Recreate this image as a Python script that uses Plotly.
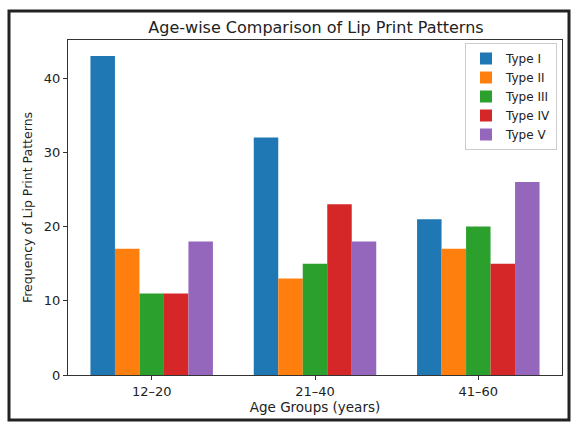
import plotly.graph_objects as go

age_groups = ["12–20", "21–40", "41–60"]
series_names = ["Type I", "Type II", "Type III", "Type IV", "Type V"]
type_i = [43, 32, 21]
type_ii = [17, 13, 17]
type_iii = [11, 15, 20]
type_iv = [11, 23, 15]
type_v = [18, 18, 26]
colors = ["#1f77b4", "#ff7f0e", "#2ca02c", "#d62728", "#9467bd"]

values = [type_i, type_ii, type_iii, type_iv, type_v]

fig = go.Figure()
for name, vals, c in zip(series_names, values, colors):
    fig.add_trace(go.Bar(x=age_groups, y=vals, name=name, marker=dict(color=c, line=dict(width=0))))

W, H = 573, 424
L, T, R, B = 68, 40, 11, 49

font_family = "DejaVu Sans, Arial, sans-serif"
fig.update_layout(
    width=W, height=H,
    margin=dict(l=L, r=R, t=T, b=B, autoexpand=False),
    paper_bgcolor="white", plot_bgcolor="white",
    barmode="group", bargap=0.25, bargroupgap=0,
    font=dict(family=font_family, size=13, color="#222"),
    title=dict(text="Age-wise Comparison of Lip Print Patterns", x=316 / W, xanchor="center",
               y=1 - 27 / H, yanchor="middle", font=dict(size=16, color="#222")),
    xaxis=dict(type="category", range=[-0.5125, 2.5125], showline=True, linecolor="#333", linewidth=1,
               mirror=True, ticks="outside", ticklen=4, tickcolor="#333", showgrid=False,
               title=dict(text="Age Groups (years)", font=dict(size=13.5), standoff=4),
               tickfont=dict(size=13)),
    yaxis=dict(range=[0, 45.15], tickvals=[0, 10, 20, 30, 40], showline=True, linecolor="#333",
               linewidth=1, mirror=True, ticks="outside", ticklen=4, tickcolor="#333", showgrid=False,
               zeroline=False,
               title=dict(text="Frequency of Lip Print Patterns", font=dict(size=12.5), standoff=8),
               tickfont=dict(size=13)),
    legend=dict(x=(557 - L) / (W - L - R), y=(H - B - 43) / (H - T - B), xanchor="right", yanchor="top",
                bgcolor="rgba(255,255,255,0.9)", bordercolor="#ccc", borderwidth=1,
                font=dict(size=12), tracegroupgap=0, itemwidth=30),
    showlegend=True,
)

# outer frame around the picture
pw, ph = W - L - R, H - T - B
fig.add_shape(type="rect", xref="paper", yref="paper",
              x0=(9 - L) / pw, x1=(569 - L) / pw,
              y0=(H - B - 420) / ph, y1=(H - B - 11) / ph,
              line=dict(color="#222", width=3), layer="above")

fig.write_html("out.html", config={"displayModeBar": False},
               post_script="document.body.style.margin='0';document.body.style.overflow='hidden';")
